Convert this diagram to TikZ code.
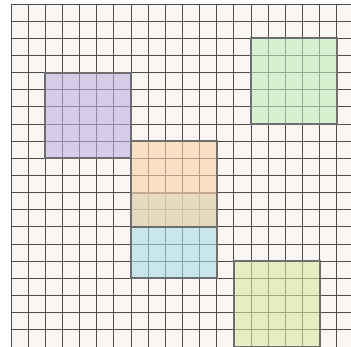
\documentclass[tikz,border=0pt]{standalone}
\definecolor{bgc}{RGB}{249,246,243}
\definecolor{gridc}{RGB}{78,78,78}
\definecolor{edgec}{RGB}{110,110,110}
\definecolor{purplec}{RGB}{189,178,225}
\definecolor{greenc}{RGB}{191,236,185}
\definecolor{orangec}{RGB}{252,209,163}
\definecolor{bluec}{RGB}{169,221,230}
\definecolor{limec}{RGB}{217,231,163}
\tikzset{
  gridline/.style={draw=gridc, line width=1pt},
  patch/.style={fill=#1, fill opacity=0.6},
  patchedge/.style={draw=edgec, line width=2pt},
}
\newcommand{\cellsq}[3]{%
  \fill[patch=#3] ({11+#1*17.15},{4+#2*17.15}) rectangle ++(85.75,85.75);
  \draw[patchedge] ({11+#1*17.15},{4+#2*17.15}) rectangle ++(85.75,85.75);
}
\begin{document}
\begin{tikzpicture}[x=1pt,y=-1pt]
\useasboundingbox (0,0) rectangle (351,346);
\fill[white] (0,0) rectangle (351,346);
\begin{scope}
\clip (0,0) rectangle (351,346);
\fill[bgc] (11,4) rectangle (370,370);
\foreach \i in {0,...,20} {
  \pgfmathsetmacro{\gp}{11+\i*17.15}
  \pgfmathsetmacro{\gq}{4+\i*17.15}
  \draw[gridline] (\gp,4) -- (\gp,370);
  \draw[gridline] (11,\gq) -- (370,\gq);
}
\cellsq{2}{4}{purplec}
\cellsq{14}{2}{greenc}
\cellsq{7}{11}{bluec}
\cellsq{7}{8}{orangec}
\cellsq{13}{15}{limec}
\end{scope}
\end{tikzpicture}
\end{document}
